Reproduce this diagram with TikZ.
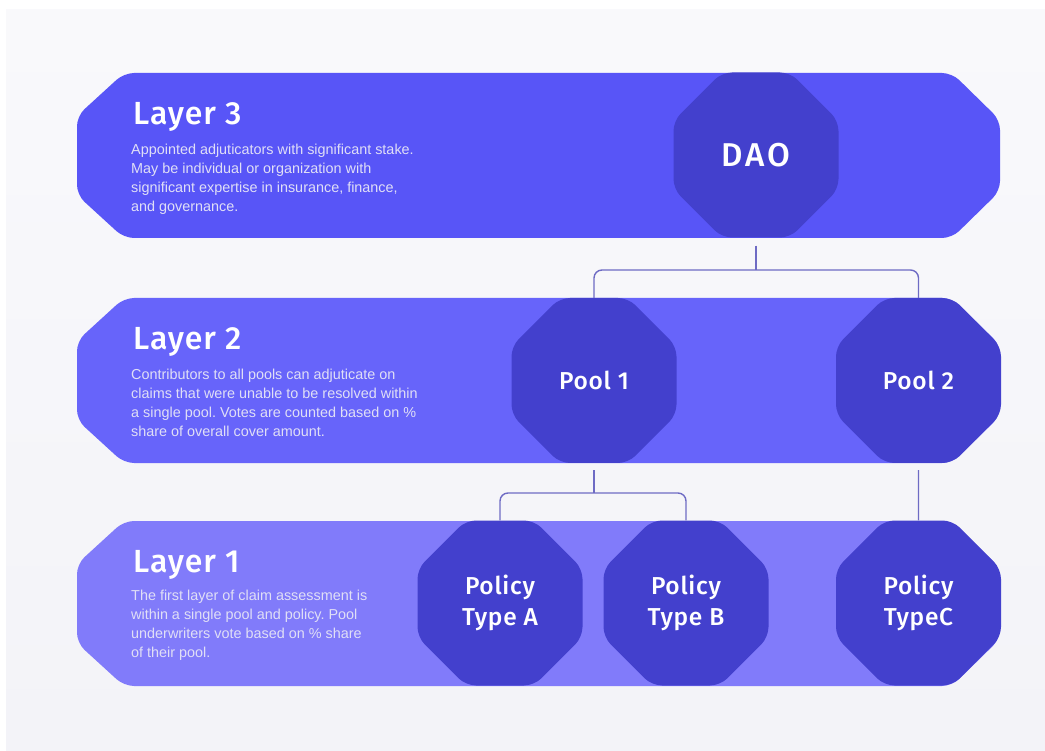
\documentclass[tikz,border=0pt]{standalone}
\usepackage{fontspec}
\setmainfont{Liberation Sans}
\newfontfamily\hfont{Fira Sans Medium}
\newfontfamily\hfontwide{Fira Sans Medium}[LetterSpace=3]
\newfontfamily\hfontdao{Fira Sans Medium}[LetterSpace=8]
\usetikzlibrary{shapes.geometric}
\frenchspacing
\definecolor{bgc}{HTML}{F3F3F8}
\definecolor{lthree}{HTML}{5855F7}
\definecolor{ltwo}{HTML}{6764FA}
\definecolor{lone}{HTML}{817BFA}
\definecolor{octc}{HTML}{4340CD}
\definecolor{linec}{HTML}{6E6BC4}
\definecolor{bodyc}{HTML}{E0DFF6}
\tikzset{
  oct/.style={regular polygon, regular polygon sides=8, minimum size=178.6pt,
    inner sep=0pt, outer sep=0pt, fill=octc, rounded corners=10pt, text=white,
    align=center},
  octbig/.style={oct, font=\hfontdao\fontsize{33}{36}\selectfont},
  octmid/.style={oct, font=\hfontwide\fontsize{24.5}{31}\selectfont},
  title/.style={anchor=base west, inner sep=0pt, text=white,
    font=\hfontwide\fontsize{32}{34}\selectfont},
  body/.style={anchor=base west, inner sep=0pt, text=bodyc,
    font=\fontsize{14.4}{19}\selectfont},
  conn/.style={draw=linec, line width=1.4pt},
}
\newcommand\bandshape[2]{%
  \fill[#2, rounded corners=10pt] (124,#1) -- (952,#1) -- (1000,#1+47) -- (1000,#1+118)
    -- (952,#1+165) -- (124,#1+165) -- (77,#1+122) -- (77,#1+43) -- cycle;}
\newcommand\bodytext[1]{\parbox[t]{340pt}{\frenchspacing\raggedright #1}}
\begin{document}
\begin{tikzpicture}[x=1pt,y=-1pt]
\useasboundingbox (0,0) rectangle (1045,751);
\fill[white] (0,0) rectangle (1045,751);
\shade[top color=white!50!bgc, bottom color=bgc] (6,10) rectangle (1045,751);
% bands
\bandshape{73}{lthree}
\bandshape{298}{ltwo}
\bandshape{521}{lone}
% junction levels
\coordinate (j1) at (0,270);
\coordinate (j2) at (0,493);
% octagons
\node[octbig] (dao) at (756,155) {DAO};
\node[octmid] (pool1) at (594,380.5) {Pool 1};
\node[octmid] (pool2) at (918.5,380.5) {Pool 2};
\node[octmid] (polA) at (500,603) {Policy\\Type A};
\node[octmid] (polB) at (686,603) {Policy\\Type B};
\node[octmid] (polC) at (918.5,603) {Policy\\TypeC};
% connectors
\draw[conn] ([yshift=-8pt]dao.south) -- (dao.south |- j1);
\draw[conn, rounded corners=8pt] (pool1.north) -- (pool1.north |- j1) -- (pool2.north |- j1) -- (pool2.north);
\draw[conn] ([yshift=-7pt]pool1.south) -- (pool1.south |- j2);
\draw[conn, rounded corners=8pt] (polA.north) -- (polA.north |- j2) -- (polB.north |- j2) -- (polB.north);
\draw[conn] ([yshift=-7pt]pool2.south) -- (polC.north);
% texts
\node[title] (t3) at (133,125) {Layer 3};
\node[body] (b3) at (131,155) {\bodytext{Appointed adjuticators with significant stake.\\May be individual or organization with\\significant expertise in insurance, finance,\\and governance.}};
\node[title] (t2) at (133,350) {Layer 2};
\node[body] (b2) at (131,380) {\bodytext{Contributors to all pools can adjuticate on\\claims that were unable to be resolved within\\a single pool. Votes are counted based on \%\\share of overall cover amount.}};
\node[title] (t1) at (133,572) {Layer 1};
\node[body] (b1) at (131,600) {\bodytext{The first layer of claim assessment is\\within a single pool and policy. Pool\\underwriters vote based on \% share\\of their pool.}};
\end{tikzpicture}
\end{document}
